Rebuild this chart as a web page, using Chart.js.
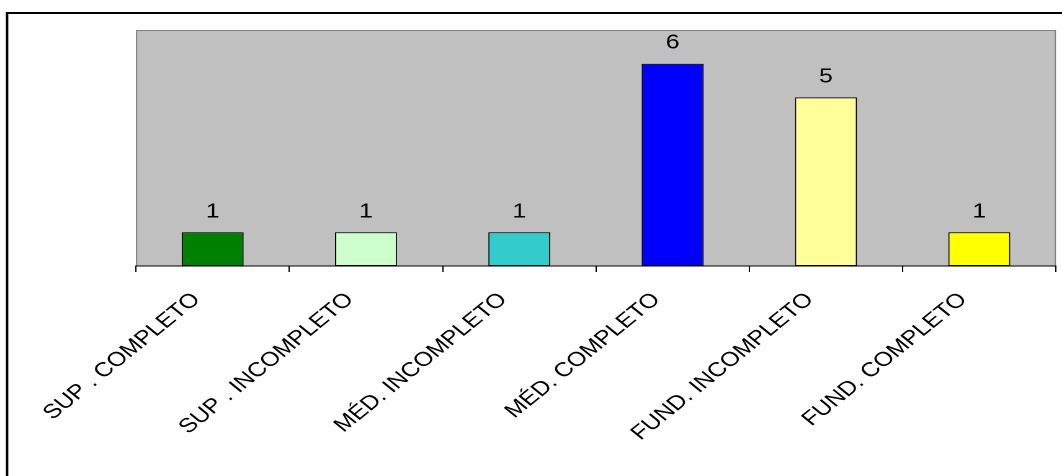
<!DOCTYPE html>
<html>
<head>
<meta charset="utf-8">
<script src="https://cdn.jsdelivr.net/npm/chart.js@4/dist/chart.umd.min.js"></script>
<style>
  html, body { margin: 0; padding: 0; background: #fff; overflow: hidden; }
  #wrap { width: 1062px; height: 476px; overflow: hidden; }
  #c { display: block; transform-origin: 0 0; transform: scaleX(1.2407); }
</style>
</head>
<body>
<div id="wrap"><canvas id="c" width="856" height="476" style="width:856px;height:476px"></canvas></div>
<script>
// Escolaridade: categories, counts and bar colours
const categories = [
  'SUP . COMPLETO',
  'SUP . INCOMPLETO',
  'MÉD. INCOMPLETO',
  'MÉD. COMPLETO',
  'FUND. INCOMPLETO',
  'FUND. COMPLETO'
];
const counts = [1, 1, 1, 6, 5, 1];
const barColors = ['#008000', '#CCFFCC', '#33CCCC', '#0000FF', '#FFFF99', '#FFFF00'];
const yMax = 7;

const FONT = '"Liberation Sans", Arial, sans-serif';

// Outer frame, grey plot background and its border
const framePlugin = {
  id: 'frame',
  beforeDraw(chart) {
    const { ctx, chartArea: a, width, height } = chart;
    ctx.save();
    ctx.fillStyle = '#fff';
    ctx.fillRect(0, 0, width, height);
    ctx.strokeStyle = '#000';
    ctx.lineWidth = 2;
    ctx.beginPath();
    ctx.moveTo(5.7, height + 2);
    ctx.lineTo(5.7, 13);
    ctx.lineTo(width + 2, 13);
    ctx.stroke();
    ctx.fillStyle = '#C0C0C0';
    ctx.fillRect(a.left, a.top, a.right - a.left, a.bottom - a.top);
    ctx.strokeStyle = '#808080';
    ctx.lineWidth = 1;
    ctx.beginPath();
    ctx.moveTo(a.left + 0.5, a.bottom);
    ctx.lineTo(a.left + 0.5, a.top + 0.5);
    ctx.lineTo(a.right - 0.5, a.top + 0.5);
    ctx.lineTo(a.right - 0.5, a.bottom);
    ctx.stroke();
    ctx.restore();
  }
};

// Count written above each bar
const valuePlugin = {
  id: 'values',
  afterDatasetsDraw(chart) {
    const { ctx } = chart;
    const meta = chart.getDatasetMeta(0);
    ctx.save();
    ctx.fillStyle = '#000';
    ctx.font = '20px ' + FONT;
    ctx.textAlign = 'center';
    ctx.textBaseline = 'alphabetic';
    meta.data.forEach((bar, i) => {
      ctx.fillText(String(chart.data.datasets[0].data[i]), bar.x, bar.y - 15);
    });
    ctx.restore();
  }
};

new Chart(document.getElementById('c'), {
  type: 'bar',
  data: {
    labels: categories,
    datasets: [{
      data: counts,
      backgroundColor: barColors,
      borderColor: '#000',
      borderWidth: 1,
      borderSkipped: false,
      barPercentage: 0.404,
      categoryPercentage: 1
    }]
  },
  options: {
    responsive: false,
    animation: false,
    devicePixelRatio: 2,
    layout: { padding: { left: 109.6, right: 4.9, top: 30, bottom: 0 } },
    plugins: { legend: { display: false }, tooltip: { enabled: false } },
    scales: {
      y: { display: false, min: 0, max: yMax },
      x: {
        offset: true,
        grid: { display: true, drawOnChartArea: false, drawTicks: true, tickLength: 6, color: '#000', offset: true },
        border: { display: true, color: '#000', width: 1 },
        ticks: {
          color: '#000',
          font: { family: FONT, size: 20 },
          minRotation: 45,
          maxRotation: 45,
          autoSkip: false,
          padding: 16,
          labelOffset: -13
        },
        afterFit(scale) { scale.height = 210; }
      }
    }
  },
  plugins: [framePlugin, valuePlugin]
});
</script>
</body>
</html>
